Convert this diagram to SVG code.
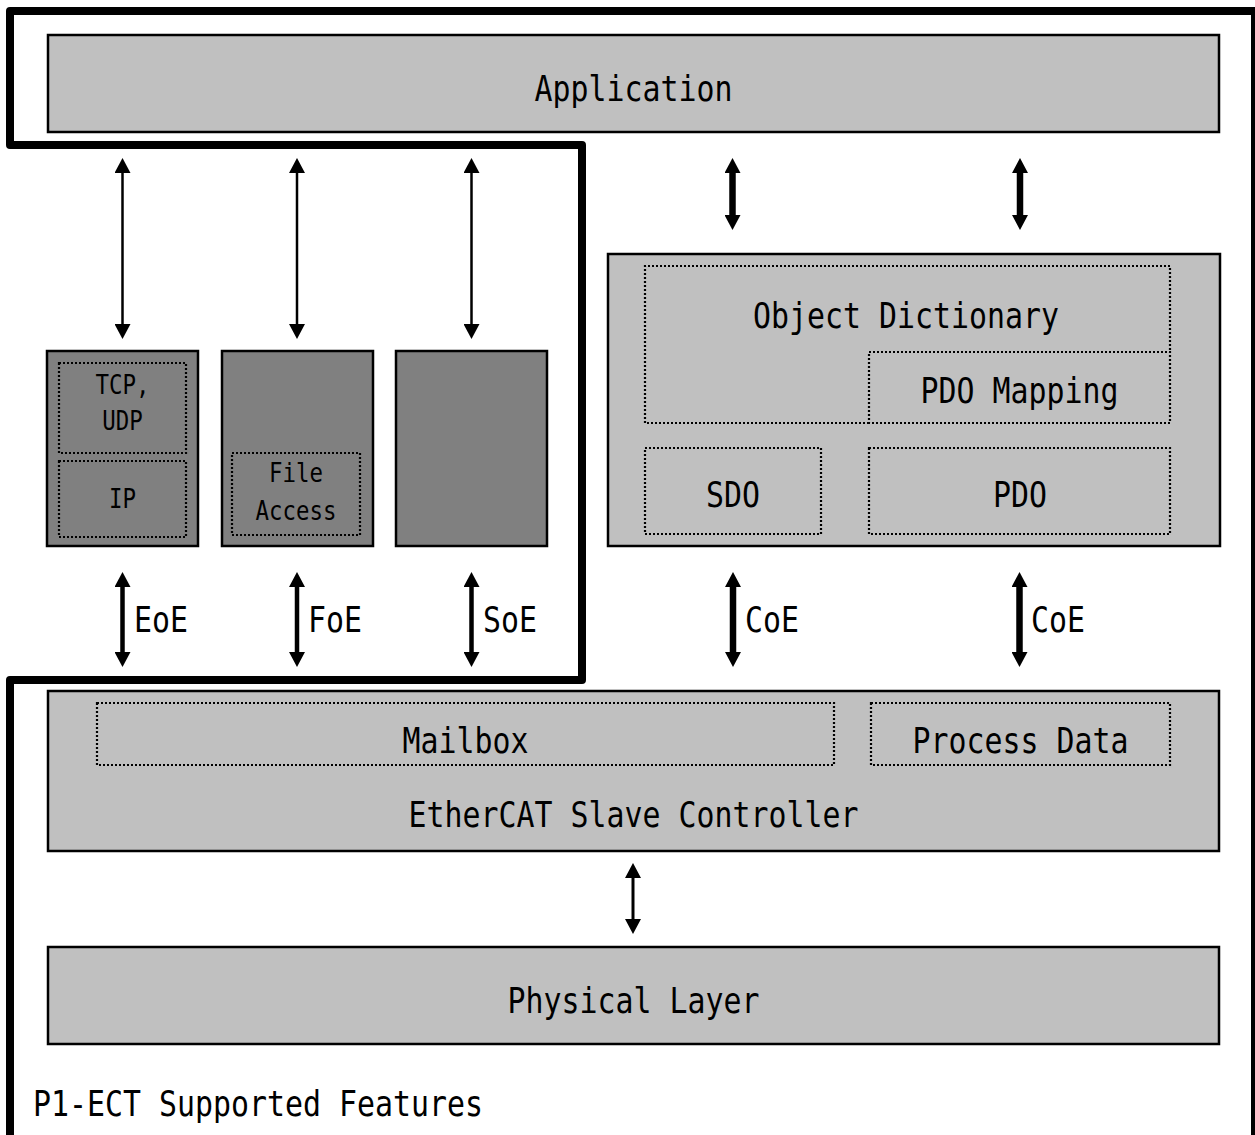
<svg xmlns="http://www.w3.org/2000/svg" width="1255" height="1135" viewBox="0 0 1255 1135">
<style>
.t{font-family:"DejaVu Sans Mono","Liberation Mono",monospace;font-size:36px;fill:#000}
.s{font-size:27px}
.lt{fill:#c0c0c0;stroke:#000;stroke-width:2.5}
.dk{fill:#808080;stroke:#000;stroke-width:2.5}
.dot{fill:none;stroke:#000;stroke-width:2.2;stroke-dasharray:2 2}
.ar{stroke:#000;fill:none;stroke-linecap:butt;marker-start:url(#ah);marker-end:url(#ah)}
</style>
<defs>
<marker id="ah" markerUnits="userSpaceOnUse" viewBox="0 -8 15 16" refX="0" refY="0" markerWidth="15" markerHeight="16" orient="auto-start-reverse">
<path d="M0,-8 L15,0 L0,8 Z" fill="#000"/>
</marker>
</defs>
<rect width="1255" height="1135" fill="#fff"/>
<g id="feature-boundary">
<path d="M10,1145 V680 H582 V145 H10 V11 H1255 V1145" fill="none" stroke="#000" stroke-width="8" stroke-linejoin="round"/>
</g>
<g id="application">
<rect class="lt" x="48" y="35" width="1171" height="97"/>
<text class="t" x="633.5" y="101" text-anchor="middle" textLength="198" lengthAdjust="spacingAndGlyphs">Application</text>
</g>
<g id="eoe-stack">
<rect class="dk" x="47" y="351" width="151" height="195"/>
<rect class="dot" x="59" y="363" width="127" height="90"/>
<rect class="dot" x="59" y="461" width="127" height="76"/>
<text class="t s" x="122.5" y="394" text-anchor="middle" textLength="54" lengthAdjust="spacingAndGlyphs">TCP,</text>
<text class="t s" x="122.5" y="430" text-anchor="middle" textLength="40.5" lengthAdjust="spacingAndGlyphs">UDP</text>
<text class="t s" x="122.5" y="508" text-anchor="middle" textLength="27" lengthAdjust="spacingAndGlyphs">IP</text>
</g>
<g id="foe-stack">
<rect class="dk" x="222" y="351" width="151" height="195"/>
<rect class="dot" x="232" y="453" width="128" height="82"/>
<text class="t s" x="296" y="482" text-anchor="middle" textLength="54" lengthAdjust="spacingAndGlyphs">File</text>
<text class="t s" x="296" y="520" text-anchor="middle" textLength="81" lengthAdjust="spacingAndGlyphs">Access</text>
</g>
<g id="soe-stack">
<rect class="dk" x="396" y="351" width="151" height="195"/>
</g>
<g id="coe-stack">
<rect class="lt" x="608" y="254" width="612" height="292"/>
<path class="dot" d="M869,423 H645 V266 H1170 V352"/>
<text class="t" x="906" y="328" text-anchor="middle" textLength="306" lengthAdjust="spacingAndGlyphs">Object Dictionary</text>
<rect class="dot" x="869" y="352" width="301" height="71"/>
<text class="t" x="1019.5" y="403" text-anchor="middle" textLength="198" lengthAdjust="spacingAndGlyphs">PDO Mapping</text>
<rect class="dot" x="645" y="448" width="176" height="86"/>
<text class="t" x="733" y="507" text-anchor="middle" textLength="54" lengthAdjust="spacingAndGlyphs">SDO</text>
<rect class="dot" x="869" y="448" width="301" height="86"/>
<text class="t" x="1020" y="507" text-anchor="middle" textLength="54" lengthAdjust="spacingAndGlyphs">PDO</text>
</g>
<g id="esc">
<rect class="lt" x="48" y="691" width="1171" height="160"/>
<rect class="dot" x="97" y="703" width="737" height="62"/>
<text class="t" x="465.5" y="753" text-anchor="middle" textLength="126" lengthAdjust="spacingAndGlyphs">Mailbox</text>
<rect class="dot" x="871" y="703" width="299" height="62"/>
<text class="t" x="1020.5" y="753" text-anchor="middle" textLength="216" lengthAdjust="spacingAndGlyphs">Process Data</text>
<text class="t" x="633.5" y="827" text-anchor="middle" textLength="450" lengthAdjust="spacingAndGlyphs">EtherCAT Slave Controller</text>
</g>
<g id="physical-layer">
<rect class="lt" x="48" y="947" width="1171" height="97"/>
<text class="t" x="633.5" y="1013" text-anchor="middle" textLength="252" lengthAdjust="spacingAndGlyphs">Physical Layer</text>
</g>
<g id="caption">
<text class="t" x="33" y="1116" textLength="450" lengthAdjust="spacingAndGlyphs">P1-ECT Supported Features</text>
</g>
<g id="connectors">
<line class="ar" x1="122.5" y1="173" x2="122.5" y2="324" stroke-width="2.5"/>
<line class="ar" x1="297" y1="173" x2="297" y2="324" stroke-width="2.5"/>
<line class="ar" x1="471.5" y1="173" x2="471.5" y2="324" stroke-width="2.5"/>
<line class="ar" x1="122.5" y1="587" x2="122.5" y2="652" stroke-width="4.5"/>
<line class="ar" x1="297" y1="587" x2="297" y2="652" stroke-width="4.5"/>
<line class="ar" x1="471.5" y1="587" x2="471.5" y2="652" stroke-width="4.5"/>
<line class="ar" x1="732.5" y1="173" x2="732.5" y2="215" stroke-width="6.5"/>
<line class="ar" x1="1020" y1="173" x2="1020" y2="215" stroke-width="6.5"/>
<line class="ar" x1="733" y1="587" x2="733" y2="652" stroke-width="6.5"/>
<line class="ar" x1="1019.5" y1="587" x2="1019.5" y2="652" stroke-width="6.5"/>
<line class="ar" x1="633" y1="878" x2="633" y2="919" stroke-width="3"/>
<text class="t" x="134" y="632" textLength="54" lengthAdjust="spacingAndGlyphs">EoE</text>
<text class="t" x="308" y="632" textLength="54" lengthAdjust="spacingAndGlyphs">FoE</text>
<text class="t" x="483" y="632" textLength="54" lengthAdjust="spacingAndGlyphs">SoE</text>
<text class="t" x="745" y="632" textLength="54" lengthAdjust="spacingAndGlyphs">CoE</text>
<text class="t" x="1031" y="632" textLength="54" lengthAdjust="spacingAndGlyphs">CoE</text>
</g>
</svg>
